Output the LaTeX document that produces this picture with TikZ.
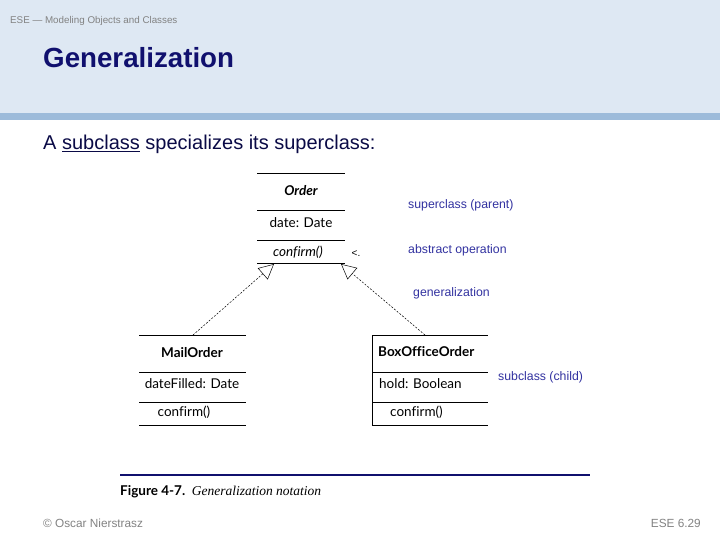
\documentclass[tikz,border=0pt]{standalone}
\usepackage{fontspec}
\setmainfont{Liberation Sans}
\newfontfamily\umlfont[Ligatures=NoCommon]{Lato}
\newfontfamily\capserif{Liberation Serif}
\usetikzlibrary{arrows.meta}
\definecolor{hdrbg}{RGB}{222,232,243}
\definecolor{hdrbar}{RGB}{157,187,218}
\definecolor{titlecol}{RGB}{16,16,110}
\definecolor{bodycol}{RGB}{10,10,70}
\definecolor{notecol}{RGB}{50,50,160}
\definecolor{graytxt}{RGB}{130,130,130}
\begin{document}
\begin{tikzpicture}[x=1pt,y=-1pt,
  umltext/.style={font=\umlfont\fontsize{13.5}{15}\selectfont, inner sep=0pt, anchor=base},
  umlline/.style={line width=0.8pt},
  note/.style={font=\fontsize{12.3}{14}\selectfont, text=notecol, inner sep=0pt, anchor=base west},
  genarrow/.style={dashed, dash pattern=on 2pt off 1.5pt, line width=0.5pt, -{Triangle[open,length=15pt,width=15pt]}}]
\useasboundingbox (0,0) rectangle (720,540);
% header
\fill[hdrbg] (0,0) rectangle (720,113);
\fill[hdrbar] (0,113) rectangle (720,120);
\node[font=\fontsize{9.8}{11}\selectfont, text=graytxt, anchor=base west, inner sep=0pt] (hdr) at (10,24) {ESE — Modeling Objects and Classes};
\node[font=\bfseries\fontsize{27.7}{30}\selectfont, text=titlecol, anchor=base west, inner sep=0pt] (title) at (43,68) {Generalization};
\node[font=\fontsize{20}{23}\selectfont, text=bodycol, anchor=base west, inner sep=0pt] (intro) at (43,150) {A \underline{subclass} specializes its superclass:};
% Order class
\draw[umlline] (257,173) -- (345,173);
\draw[umlline] (257,210) -- (345,210);
\draw[umlline] (257,240) -- (345,240);
\draw[umlline] (257,263) -- (345,263);
\node[umltext, font=\umlfont\bfseries\itshape\fontsize{13.5}{15}\selectfont] (oname) at (301,196) {Order};
\node[umltext] (oattr) at (301,228) {date: Date};
\node[umltext, font=\umlfont\itshape\fontsize{13.5}{15}\selectfont] (oop) at (298,256) {confirm()};
\node[font=\fontsize{10}{12}\selectfont, inner sep=0pt, anchor=base] (ptr) at (356,256) {<.};
\coordinate (otipA) at (274,264);
\coordinate (otipB) at (341,264);
% MailOrder
\draw[umlline] (139,335) -- (246,335);
\draw[umlline] (139,372) -- (246,372);
\draw[umlline] (139,402) -- (246,402);
\draw[umlline] (139,425) -- (246,425);
\node[umltext, font=\umlfont\bfseries\fontsize{13.5}{15}\selectfont] (mname) at (192,357) {MailOrder};
\node[umltext] (mattr) at (192,388) {dateFilled: Date};
\node[umltext] (mop) at (184,416) {confirm()};
\coordinate (mtop) at (193,335);
% BoxOfficeOrder
\draw[umlline] (372,335) -- (488,335);
\draw[umlline] (372,372) -- (488,372);
\draw[umlline] (372,402) -- (488,402);
\draw[umlline] (372,425) -- (488,425);
\draw[umlline] (372,335) -- (372,425);
\node[umltext, font=\umlfont\bfseries\fontsize{13.5}{15}\selectfont, anchor=base west] (bname) at (378,356) {BoxOfficeOrder};
\node[umltext, anchor=base west] (battr) at (379,388) {hold: Boolean};
\node[umltext, anchor=base west] (bop) at (390,416) {confirm()};
\coordinate (btop) at (425,335);
% generalization arrows
\draw[genarrow] (mtop) -- (otipA);
\draw[genarrow] (btop) -- (otipB);
% notes
\node[note] (n1) at (408,209) {superclass (parent)};
\node[note] (n2) at (408,254) {abstract operation};
\node[note] (n3) at (413,296) {generalization};
\node[note] (n4) at (498,380) {subclass (child)};
% caption
\draw[line width=2pt, titlecol] (120,475) -- (590,475);
\node[anchor=base west, inner sep=0pt] (cap) at (120,495) {\umlfont\bfseries\fontsize{13.5}{15}\selectfont Figure 4-7.\ \ \capserif\mdseries\itshape\fontsize{13.5}{15}\selectfont Generalization notation};
% footer
\node[font=\fontsize{11.8}{13}\selectfont, text=graytxt, anchor=base west, inner sep=0pt] (foot1) at (43,527) {© Oscar Nierstrasz};
\node[font=\fontsize{11.8}{13}\selectfont, text=graytxt, anchor=base east, inner sep=0pt] (foot2) at (701,527) {ESE 6.29};
\end{tikzpicture}
\end{document}
